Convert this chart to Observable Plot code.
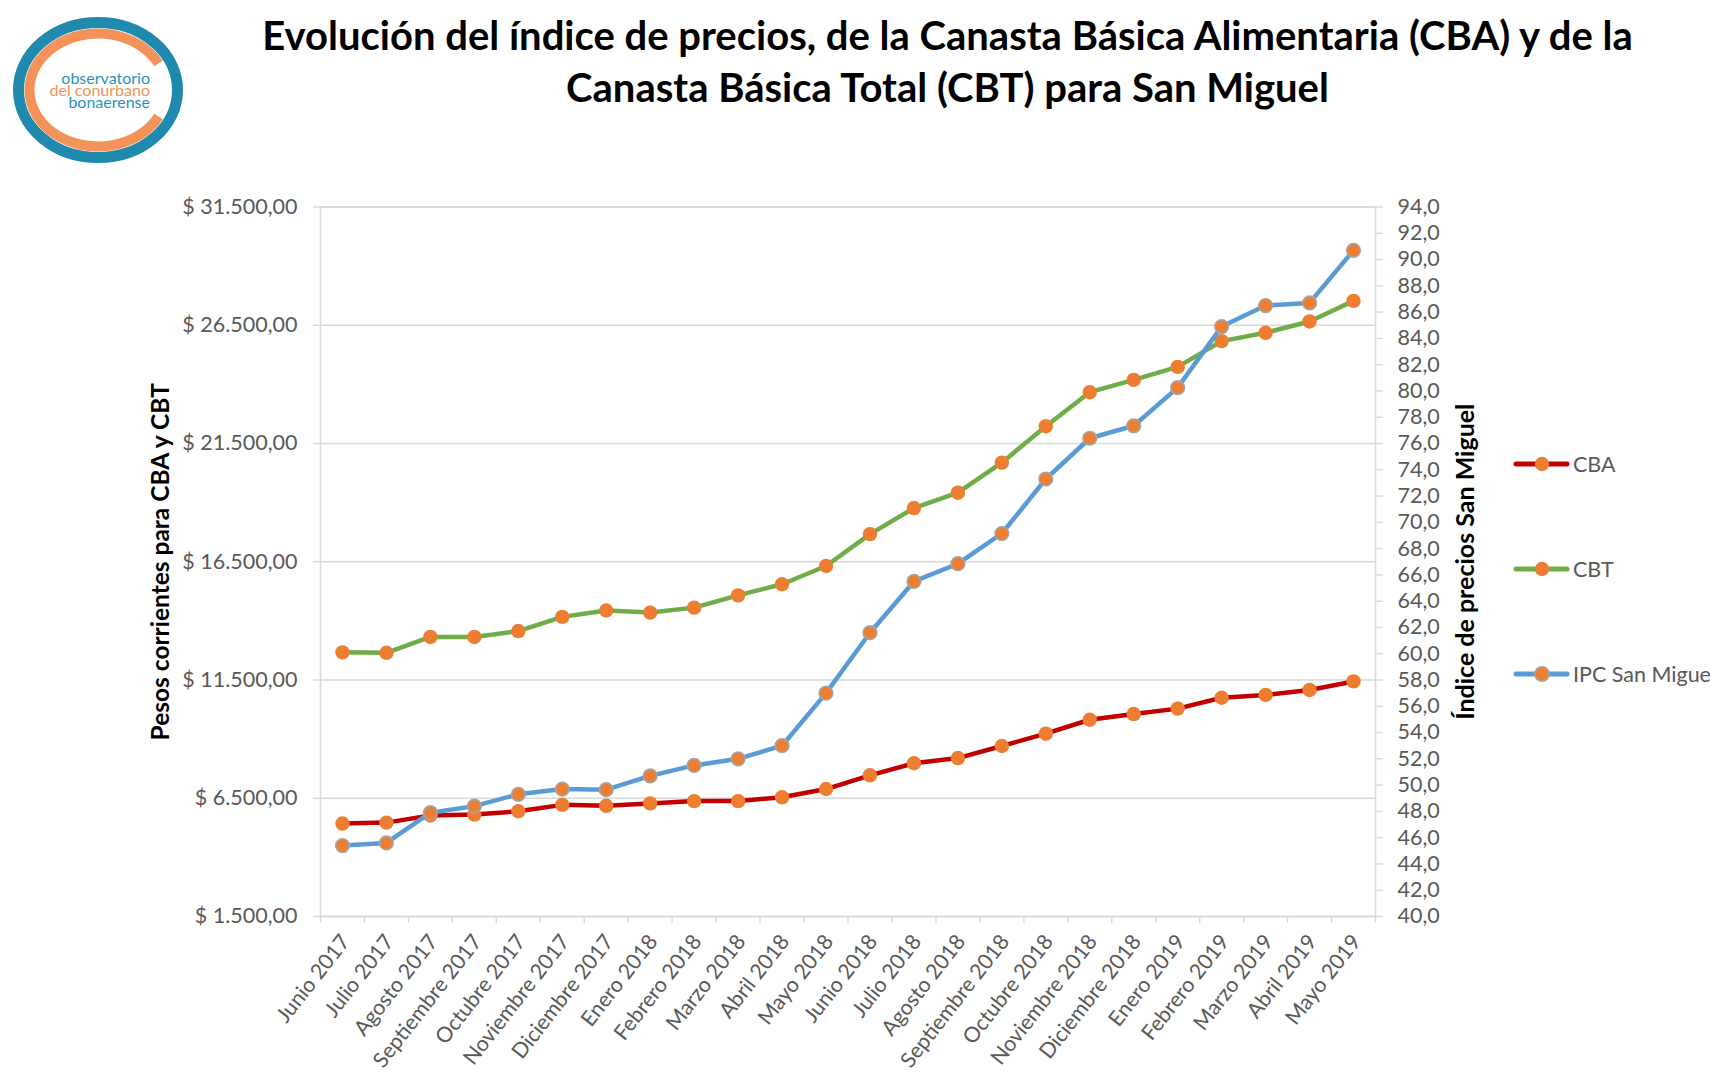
<!DOCTYPE html>
<html><head><meta charset="utf-8">
<script src="https://cdn.jsdelivr.net/npm/d3@7"></script>
<script src="https://cdn.jsdelivr.net/npm/@observablehq/plot@0.6"></script>
<style>
body{margin:0;background:#fff;}
#root{position:relative;width:1710px;height:1084px;overflow:hidden;font-family:Lato,"Open Sans",sans-serif;background:#fff;}
#title{position:absolute;left:185px;top:9px;width:1525px;text-align:center;font-weight:bold;font-size:40px;line-height:52px;color:#000;white-space:nowrap;}
#chart{position:absolute;left:0;top:150px;}
#logo{position:absolute;left:0;top:0;}
#legend{position:absolute;left:1500px;top:430px;}
</style></head>
<body><div id="root">
<div id="chart"></div>
<svg id="logo" width="200" height="185">
  <ellipse cx="98" cy="90" rx="79.5" ry="67.5" fill="none" stroke="#1f89ae" stroke-width="11"/>
  <path d="M158.5,63.5 A68.5,56.5 0 1 0 158.5,116.5" fill="none" stroke="#f5925a" stroke-width="10"/>
  <g font-family="Lato, sans-serif" font-size="16" text-anchor="end">
    <text x="150" y="84" fill="#2b93b8">observatorio</text>
    <text x="150" y="96" fill="#f39259">del conurbano</text>
    <text x="150" y="108" fill="#2b93b8">bonaerense</text>
  </g>
</svg>
<div id="title">Evolución del índice de precios, de la Canasta Básica Alimentaria (CBA) y de la<br>Canasta Básica Total (CBT) para San Miguel</div>
<svg id="legend" width="210" height="280"></svg>
</div>
<script>
const months = ["Junio 2017","Julio 2017","Agosto 2017","Septiembre 2017","Octubre 2017","Noviembre 2017","Diciembre 2017","Enero 2018","Febrero 2018","Marzo 2018","Abril 2018","Mayo 2018","Junio 2018","Julio 2018","Agosto 2018","Septiembre 2018","Octubre 2018","Noviembre 2018","Diciembre 2018","Enero 2019","Febrero 2019","Marzo 2019","Abril 2019","Mayo 2019"];
const cba = [5430,5470,5770,5810,5950,6220,6180,6280,6380,6380,6540,6890,7470,7980,8200,8710,9230,9820,10060,10290,10750,10870,11080,11440];
const cbt = [12670,12650,13320,13320,13570,14170,14440,14350,14560,15080,15550,16320,17670,18770,19420,20690,22230,23670,24190,24740,25830,26180,26660,27530];
const ipc = [45.4,45.6,47.9,48.4,49.3,49.7,49.65,50.7,51.5,52.0,53.0,57.0,61.6,65.5,66.85,69.15,73.3,76.4,77.35,80.25,84.9,86.5,86.7,90.7];
const leftTicks = [1500,6500,11500,16500,21500,26500,31500];
const rightTicks = [40,42,44,46,48,50,52,54,56,58,60,62,64,66,68,70,72,74,76,78,80,82,84,86,88,90,92,94];
const seriesNames = ["CBA","CBT","IPC San Miguel"];
const lineColors = ["#c00000","#70ad47","#5b9bd5"];
const markerFill = "#ed7d31";
const markerStroke = "#a5a5a5";

const es = d3.formatLocale({decimal:",", thousands:".", grouping:[3], currency:["$",""]});
const fmtPeso = d => "$ " + es.format(",.2f")(d);
const fmtIdx = es.format(".1f");
const toLeft = d3.scaleLinear([rightTicks[0], rightTicks[rightTicks.length-1]], [leftTicks[0], leftTicks[leftTicks.length-1]]);

const data = months.map((m, i) => ({i, m, cba: cba[i], cbt: cbt[i], ipc: toLeft(ipc[i])}));
const idx = months.map((m, i) => i);
const bounds = d3.range(-0.5, months.length, 1);

const chart = Plot.plot({
  width: 1710, height: 934,
  marginLeft: 320, marginRight: 335, marginTop: 56.5, marginBottom: 168,
  x: {type: "linear", domain: [-0.5, months.length - 0.5]},
  y: {domain: [leftTicks[0], leftTicks[leftTicks.length-1]]},
  style: {fontFamily: "Lato, 'Open Sans', sans-serif", fontSize: "21.5px", color: "#595959", background: "white"},
  marks: [
    Plot.gridY(leftTicks, {stroke: "#d9d9d9", strokeOpacity: 1, strokeWidth: 1.4}),
    Plot.frame({stroke: "#d9d9d9", strokeWidth: 1.6}),
    Plot.axisY(leftTicks, {anchor: "left", tickSize: 7, tickPadding: 16, stroke: "#d9d9d9", strokeWidth: 1.4, fill: "#595959", tickFormat: fmtPeso, label: null}),
    Plot.axisY(rightTicks.map(toLeft), {anchor: "right", tickSize: 7, tickPadding: 15, stroke: "#d9d9d9", strokeWidth: 1.4, fill: "#595959", tickFormat: d => fmtIdx(toLeft.invert(d)), label: null}),
    Plot.axisX(bounds, {anchor: "bottom", tickSize: 7, stroke: "#d9d9d9", strokeWidth: 1.4, tickFormat: () => "", label: null}),
    Plot.axisX(idx, {anchor: "bottom", tickSize: 0, tickPadding: 21, dx: 3, tickRotate: -52, fontSize: 21.3, fill: "#595959", tickFormat: i => months[i], label: null}),
    Plot.text(["Pesos corrientes para CBA y CBT"], {frameAnchor: "left", dx: -159, rotate: -90, textAnchor: "middle", lineAnchor: "middle", fontWeight: "bold", fontSize: 24.5, fill: "#000"}),
    Plot.text(["Índice de precios San Miguel"], {frameAnchor: "right", dx: 90, rotate: -90, textAnchor: "middle", lineAnchor: "middle", fontWeight: "bold", fontSize: 25, fill: "#000"}),
    Plot.line(data, {x: "i", y: "cba", stroke: lineColors[0], strokeWidth: 4.5}),
    Plot.dot(data, {x: "i", y: "cba", r: 7.2, fill: markerFill, stroke: "none"}),
    Plot.line(data, {x: "i", y: "cbt", stroke: lineColors[1], strokeWidth: 4.5}),
    Plot.dot(data, {x: "i", y: "cbt", r: 7.2, fill: markerFill, stroke: "none"}),
    Plot.line(data, {x: "i", y: "ipc", stroke: lineColors[2], strokeWidth: 4.5}),
    Plot.dot(data, {x: "i", y: "ipc", r: 6.8, fill: markerFill, stroke: markerStroke, strokeWidth: 1.6})
  ]
});
document.getElementById("chart").appendChild(chart);

// legend
const lg = d3.select("#legend");
const rowY = [34, 139, 244];
seriesNames.forEach((name, k) => {
  const g = lg.append("g").attr("transform", `translate(0,${rowY[k]})`);
  g.append("line").attr("x1", 16).attr("x2", 67).attr("y1", 0).attr("y2", 0)
    .attr("stroke", lineColors[k]).attr("stroke-width", 5).attr("stroke-linecap", "round");
  g.append("circle").attr("cx", 42).attr("cy", 0).attr("r", 7.2)
    .attr("fill", markerFill).attr("stroke", k === 2 ? markerStroke : "none").attr("stroke-width", 1.6);
  g.append("text").attr("x", 73).attr("y", 0).attr("dy", "0.35em")
    .attr("font-family", "Lato, sans-serif").attr("font-size", 21.5).attr("fill", "#595959").text(name);
});
</script>
</body></html>
